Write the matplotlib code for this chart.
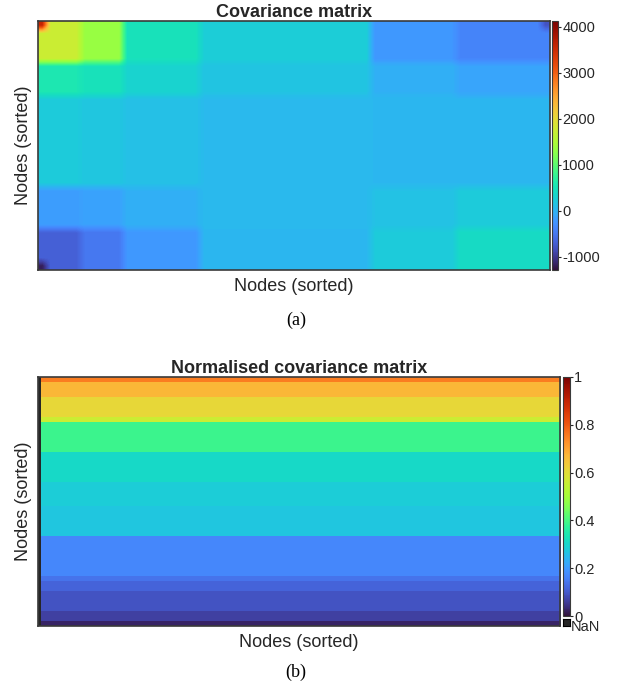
import numpy as np
import matplotlib
matplotlib.use("Agg")
from matplotlib import pyplot as plt

# --- covariance matrix: block values (rows top->bottom, cols left->right)
cov_row_sizes = [5, 4, 11, 5, 5]
cov_col_sizes = [5, 5, 9, 20, 10, 11]
cov_blocks = [
    [1750, 1350, 470, 250, -230, -380],
    [560, 480, 300, 150, -20, -120],
    [220, 180, 120, 60, 40, 30],
    [-180, -140, -20, 60, 130, 220],
    [-680, -500, -220, 30, 220, 400],
]
# extreme corner entries
cov_corner_top_left = 3600
cov_corner_bottom_left = -1200
cov_corner_top_right = -800
cov_ticks = [-1000, 0, 1000, 2000, 3000, 4000]
cov_vmin, cov_vmax = -1290, 4130

# --- normalised covariance: horizontal bands (top->bottom)
norm_band_values = [0.75, 0.67, 0.61, 0.56, 0.39, 0.305, 0.285, 0.27,
                    0.17, 0.14, 0.115, 0.09, 0.065, 0.025]
norm_band_rows = [1, 3, 4, 1, 6, 6, 5, 6, 8, 1, 2, 4, 2, 1]
norm_ncols = 150
norm_ticks = [0, 0.2, 0.4, 0.6, 0.8, 1]
norm_ticklabels = ["0", "0.2", "0.4", "0.6", "0.8", "1"]

plt.rcParams["font.family"] = ["Liberation Sans", "DejaVu Sans"]
plt.rcParams["axes.unicode_minus"] = False

W, H = 622, 688
fig = plt.figure(figsize=(W / 100, H / 100), dpi=100)


def box(x0, y0, x1, y1):
    return [x0 / W, 1 - y1 / H, (x1 - x0) / W, (y1 - y0) / H]


frame_col = "#3a3a3a"
txt_col = "#262626"
cmap = plt.get_cmap("turbo").copy()
cmap.set_bad("#262626")

# ---------- (a) ----------
cov = np.repeat(np.repeat(np.array(cov_blocks, float), cov_row_sizes, axis=0),
                cov_col_sizes, axis=1)
cov[0, 0] = cov_corner_top_left
cov[-1, 0] = cov_corner_bottom_left
cov[0, -1] = cov_corner_top_right

ax1 = fig.add_axes(box(38, 21, 550, 270))
im1 = ax1.imshow(cov, cmap=cmap, vmin=cov_vmin, vmax=cov_vmax, aspect="auto",
                 interpolation="bilinear")
ax1.set_xticks([])
ax1.set_yticks([])
for s in ax1.spines.values():
    s.set_color(frame_col)
    s.set_linewidth(1.2)
ax1.set_title("Covariance matrix", fontsize=13, fontweight="bold",
              color=txt_col, pad=3)
ax1.set_xlabel("Nodes (sorted)", fontsize=13, color=txt_col, labelpad=6)
ax1.set_ylabel("Nodes (sorted)", fontsize=13, color=txt_col, labelpad=4)

cax1 = fig.add_axes(box(552, 21, 558, 270))
cb1 = fig.colorbar(im1, cax=cax1, ticks=cov_ticks)
cb1.outline.set_edgecolor(frame_col)
cax1.tick_params(labelsize=10.5, length=2, width=0.8, colors=txt_col, pad=1)
fig.text(296 / W, 1 - 320 / H, "(a)", ha="center", va="center",
         fontsize=13, family="Liberation Serif")

# ---------- (b) ----------
col = np.repeat(np.array(norm_band_values, float), norm_band_rows)
norm = np.tile(col[:, None], (1, norm_ncols))
norm[:, 0] = np.nan

ax2 = fig.add_axes(box(38, 377, 560, 626))
im2 = ax2.imshow(norm, cmap=cmap, vmin=0, vmax=1, aspect="auto",
                 interpolation="nearest")
ax2.set_xticks([])
ax2.set_yticks([])
for s in ax2.spines.values():
    s.set_color(frame_col)
    s.set_linewidth(1.2)
ax2.set_title("Normalised covariance matrix", fontsize=13, fontweight="bold",
              color=txt_col, pad=3)
ax2.set_xlabel("Nodes (sorted)", fontsize=13, color=txt_col, labelpad=6)
ax2.set_ylabel("Nodes (sorted)", fontsize=13, color=txt_col, labelpad=4)

cax2 = fig.add_axes(box(563, 377, 570, 616))
cb2 = fig.colorbar(im2, cax=cax2, ticks=norm_ticks)
cb2.set_ticklabels(norm_ticklabels)
cb2.outline.set_edgecolor(frame_col)
cax2.tick_params(labelsize=10.5, length=2, width=0.8, colors=txt_col, pad=1)

nan_ax = fig.add_axes(box(563, 619, 570, 626))
nan_ax.set_facecolor("#262626")
nan_ax.set_xticks([])
nan_ax.set_yticks([])
fig.text(571 / W, 1 - 627 / H, "NaN", ha="left", va="center",
         fontsize=10.5, color=txt_col)

fig.text(296 / W, 1 - 672 / H, "(b)", ha="center", va="center",
         fontsize=13, family="Liberation Serif")

fig.savefig("out.png", dpi=100)
